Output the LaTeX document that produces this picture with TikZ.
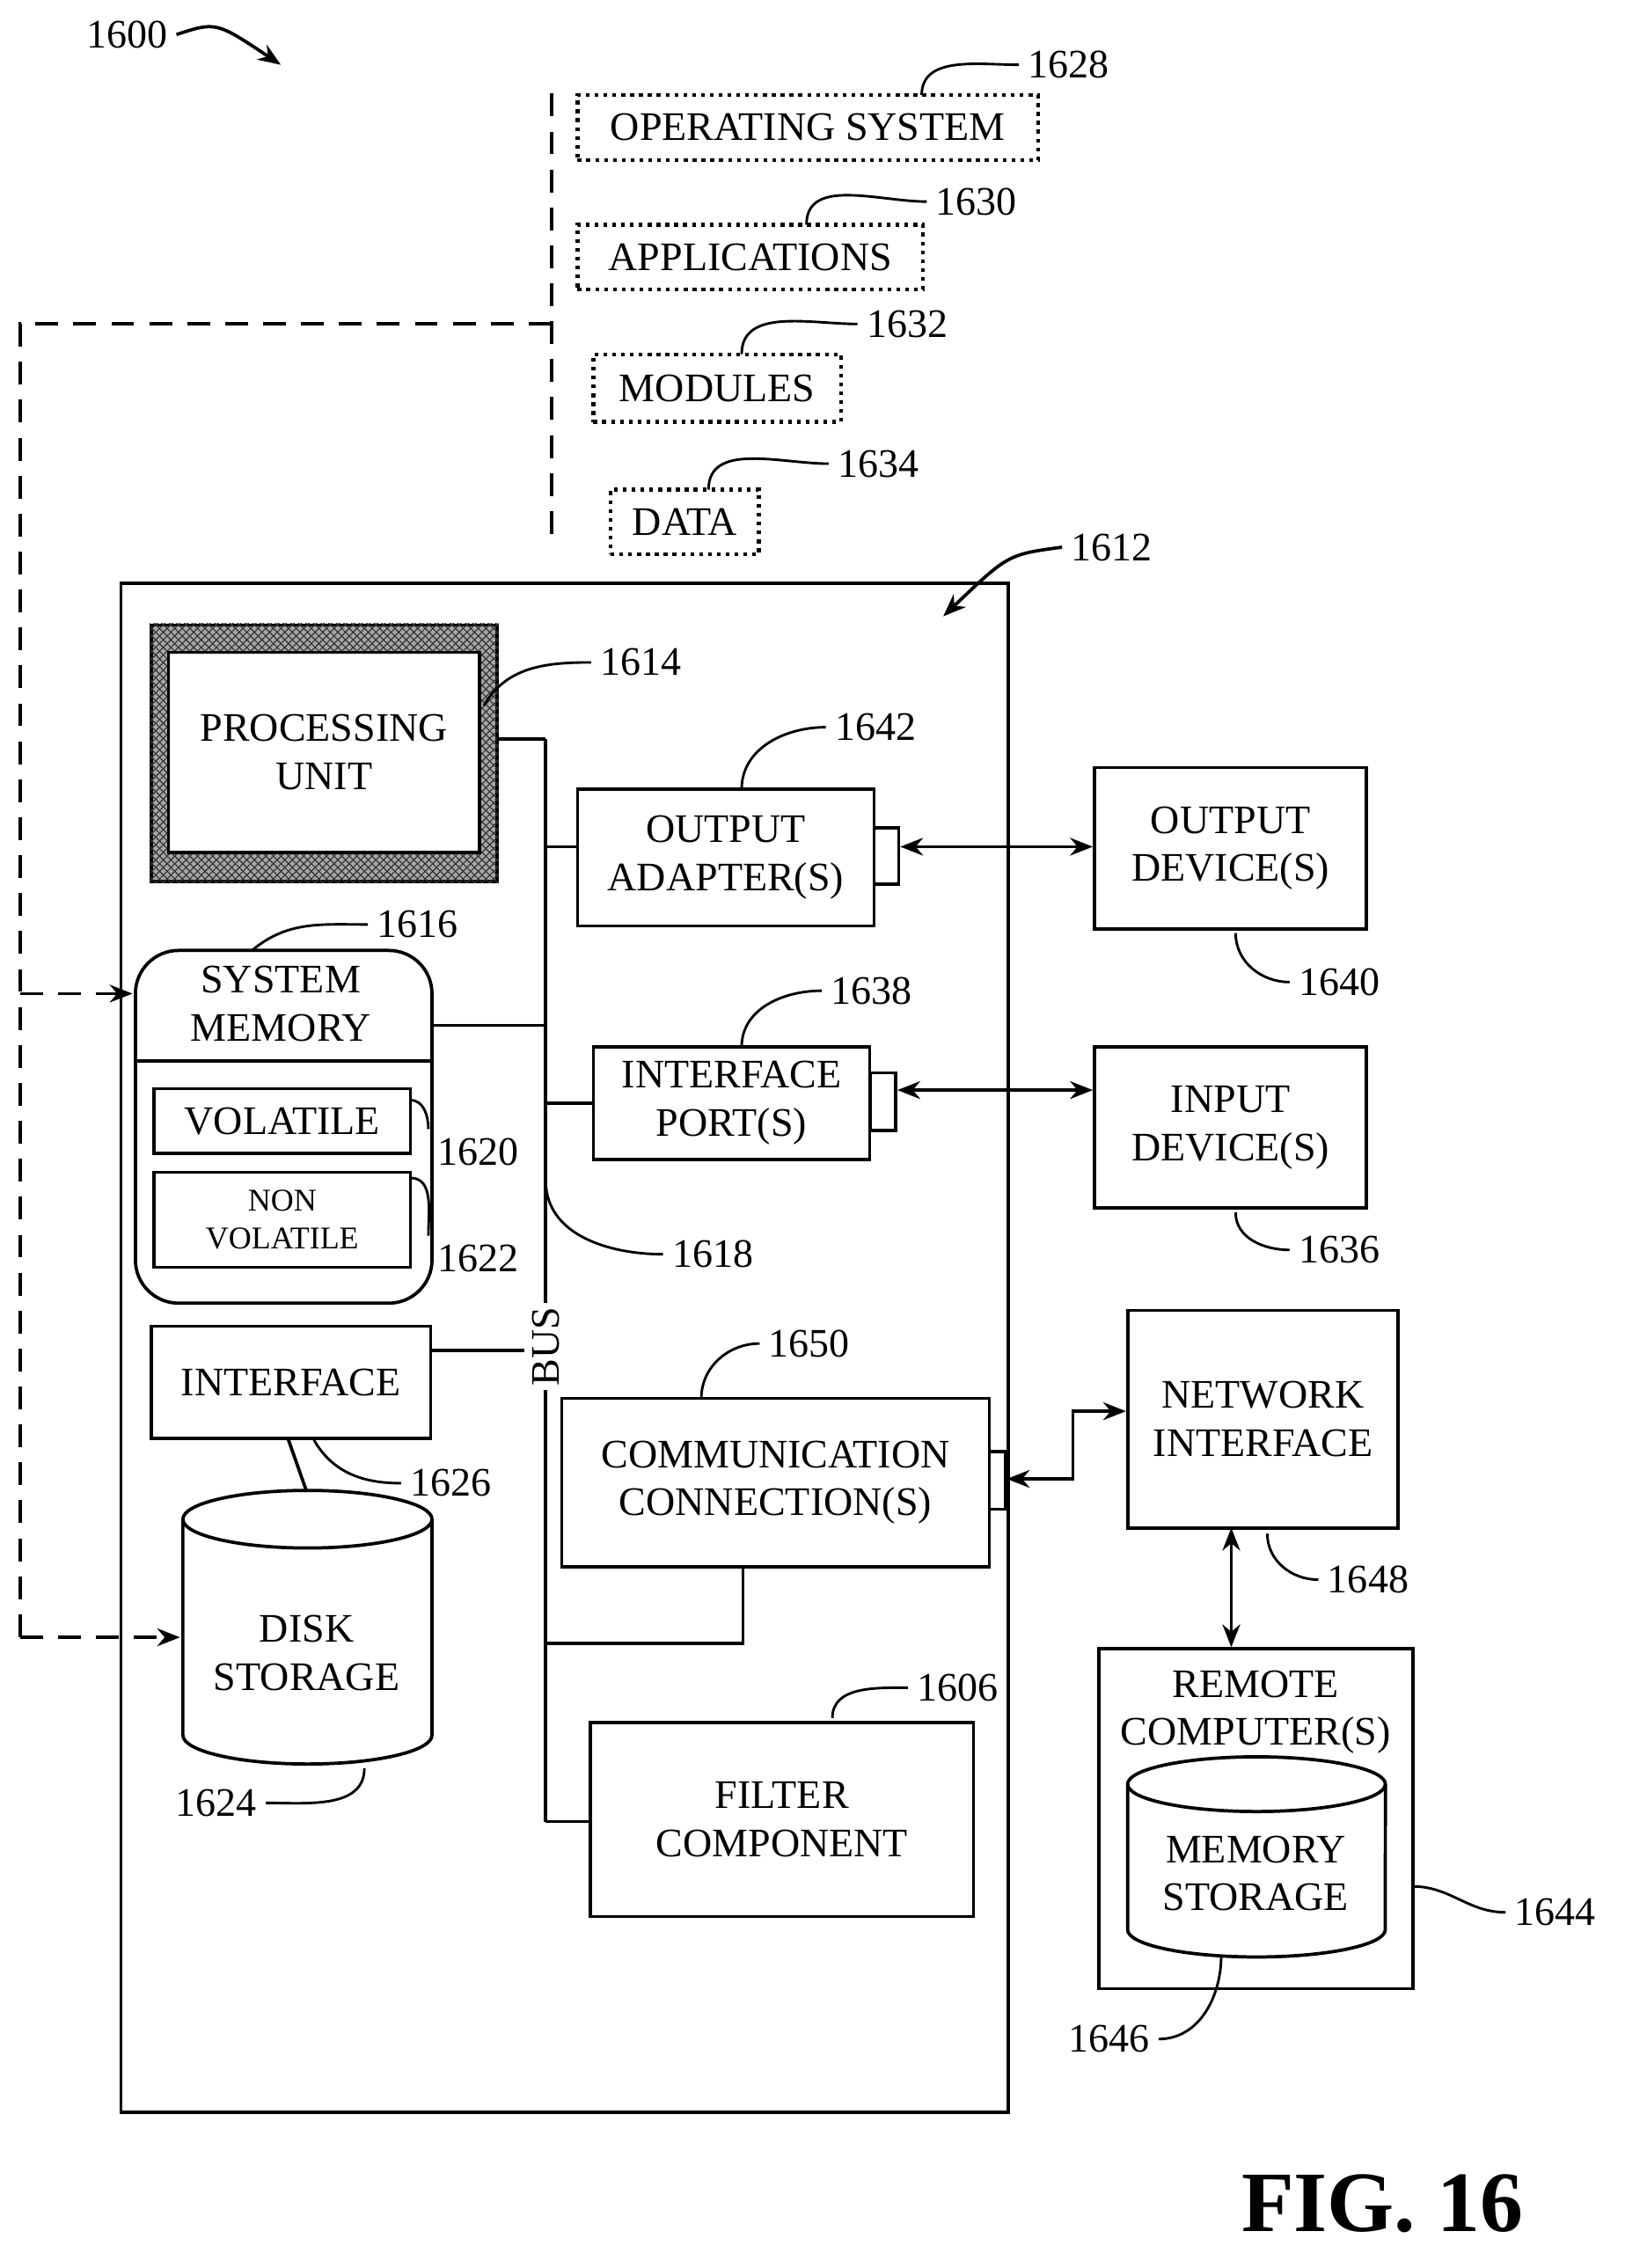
\documentclass[tikz,border=0pt]{standalone}
\usepackage{fontspec}
\setmainfont{Liberation Serif}
\usetikzlibrary{arrows.meta,patterns}
\begin{document}
\begin{tikzpicture}[x=0.02cm,y=-0.02cm,line width=1.3pt,
  box/.style={draw,rectangle,inner sep=0pt,align=center,font=\fontsize{16}{19}\selectfont},
  dbox/.style={box,dotted,line width=1.5pt},
  lbl/.style={font=\fontsize{16}{18}\selectfont,inner sep=3pt},
  lead/.style={line width=1pt},
  arr/.style={-{Stealth[length=9pt,width=7pt]}},
  darr/.style={{Stealth[length=9pt,width=7pt]}-{Stealth[length=9pt,width=7pt]}},
  dsh/.style={dash pattern=on 9pt off 6pt}]
\useasboundingbox (0,0) rectangle (1128,1575);
% title
\node[lbl] (n1600) at (88,24) {1600};
\coordinate (a1600) at (195,45);
\draw[arr,lead,line width=1.3pt] (n1600.east) .. controls (150,15) .. (a1600);
% dotted boxes
\node[dbox,minimum width=6.4cm,minimum height=0.9cm] (os) at (561,88.5) {OPERATING SYSTEM};
\node[dbox,minimum width=4.8cm,minimum height=0.9cm] (apps) at (521,178.5) {APPLICATIONS};
\node[dbox,minimum width=3.44cm,minimum height=0.94cm] (mods) at (498,269.5) {MODULES};
\node[dbox,minimum width=2.06cm,minimum height=0.9cm] (data) at (475.5,362.5) {DATA};
\node[lbl] (n1628) at (742,45) {1628};
\node[lbl] (n1630) at (678,140) {1630};
\node[lbl] (n1632) at (630,225) {1632};
\node[lbl] (n1634) at (610,322) {1634};
\draw[lead] (640,66) to[out=90,in=180] (n1628.west);
\draw[lead] (560,156) to[out=90,in=180] (n1630.west);
\draw[lead] (515,246) to[out=90,in=180] (n1632.west);
\draw[lead] (492,340) to[out=90,in=180] (n1634.west);
% dashed lines
\coordinate (d0) at (383,65); \coordinate (d1) at (383,380);
\draw[dsh] (d0) -- (d1);
\coordinate (d2) at (383,225);
% main box
\node[box,minimum width=12.32cm,minimum height=21.24cm] (main) at (392,936) {};
\node[lbl] (n1612) at (772,380) {1612};
\draw[arr,lead,line width=1.3pt] (n1612.west) .. controls (700,385) .. (655,428);
% processing unit
\node[draw,minimum width=4.8cm,minimum height=3.56cm,fill=gray!70,inner sep=0pt] (puo) at (225,523) {};
\fill[pattern=crosshatch,pattern color=black!80] (puo.south west) rectangle (puo.north east);
\node[box,fill=white,minimum width=4.32cm,minimum height=2.78cm] (pu) at (225,522.5) {PROCESSING\\UNIT};
\node[lbl] (n1614) at (445,460) {1614};
\draw[lead] (336,490) to[out=60,in=180] (n1614.west);
% bus
\coordinate (bt) at (379,513); \coordinate (bb) at (379,1265);
\draw (bt) -- (379,905); \draw (379,965) -- (bb);
\node[rotate=90,font=\fontsize{16}{18}\selectfont,inner sep=1pt] (bus) at (379,935) {BUS};
\draw (345,513) -- (bt);
% output adapter
\node[box,minimum width=4.12cm,minimum height=1.9cm] (oa) at (504,595.5) {OUTPUT\\ADAPTER(S)};
\node[box,minimum width=0.34cm,minimum height=0.78cm] (oat) at (615.5,594.5) {};
\draw (379,588) -- (oa.west |- 0,588);
\node[box,minimum width=3.78cm,minimum height=2.24cm] (od) at (854.5,589) {OUTPUT\\DEVICE(S)};
\draw[darr] (oat.east |- 0,588) -- (od.west |- 0,588);
\node[lbl] (n1642) at (608,505) {1642};
\draw[lead] (515,548) to[out=90,in=180] (n1642.west);
\node[lbl] (n1640) at (930,682) {1640};
\draw[lead] (858,648) to[out=-90,in=180] (n1640.west);
% system memory
\node[box,rounded corners=0.6cm,minimum width=4.12cm,minimum height=4.9cm] (sm) at (197,782.5) {};
\node[align=center,font=\fontsize{16}{19}\selectfont] (smt) at (195,697) {SYSTEM\\MEMORY};
\draw (94,737) -- (300,737);
\draw (300,712) -- (379,712);
\node[lbl] (n1616) at (290,642) {1616};
\draw[lead] (175,660) to[out=40,in=180] (n1616.west);
\node[box,minimum width=3.56cm,minimum height=0.9cm] (vol) at (196,778.5) {VOLATILE};
\node[box,minimum width=3.56cm,minimum height=1.32cm,font=\fontsize{12.5}{15}\selectfont] (nvol) at (196,847) {NON\\VOLATILE};
\node[lbl] (n1620) at (332,800) {1620};
\node[lbl] (n1622) at (332,874) {1622};
\draw[lead] (285,764) to[out=0,in=90] (n1620.north west);
\draw[lead] (285,818) to[out=0,in=90] (n1622.north west);
\node[lbl] (n1618) at (495,871) {1618};
\draw[lead] (379,820) to[out=-90,in=180] (n1618.west);
% interface port
\node[box,minimum width=3.84cm,minimum height=1.56cm] (ip) at (508,766) {INTERFACE\\PORT(S)};
\node[box,minimum width=0.36cm,minimum height=0.8cm] (ipt) at (613,765) {};
\draw (379,766) -- (ip.west |- 0,766);
\node[box,minimum width=3.78cm,minimum height=2.24cm] (id) at (854.5,783) {INPUT\\DEVICE(S)};
\draw[darr] (ipt.east |- 0,757) -- (id.west |- 0,757);
\node[lbl] (n1638) at (605,688) {1638};
\draw[lead] (515,727) to[out=90,in=180] (n1638.west);
\node[lbl] (n1636) at (930,868) {1636};
\draw[lead] (858,842) to[out=-90,in=180] (n1636.west);
% interface
\node[box,minimum width=3.88cm,minimum height=1.56cm] (if) at (202,960) {INTERFACE};
\draw (299,938) -- (364,938);
\node[lbl] (n1626) at (313,1030) {1626};
\draw[lead] (218,1000) to[out=-60,in=180] (n1626.west);
% disk storage
\coordinate (dk) at (213.5,1055);
\draw[fill=white] (127,1055) -- (127,1205) arc[start angle=180,end angle=360,x radius=1.73cm,y radius=0.4cm] -- (300,1055);
\draw (dk) ellipse[x radius=1.73cm,y radius=0.4cm];
\node[align=center,font=\fontsize{16}{19}\selectfont] (disk) at (213,1148) {DISK\\STORAGE};
\draw (200,999) -- (213,1036);
\node[lbl] (n1624) at (150,1252) {1624};
\draw[lead] (n1624.east) to[out=0,in=-90] (253,1228);
% dashed connectors
\coordinate (d3) at (14,225); \coordinate (d4) at (14,1137); \coordinate (d5) at (14,690);
\draw[dsh] (d2) -- (d3) -- (d4);
\draw[dsh,arr] (d4) -- (125,1137);
\draw[dsh,arr] (d5) -- (92,690);
% communication connection
\node[box,minimum width=5.94cm,minimum height=2.34cm] (cc) at (538.5,1029.5) {COMMUNICATION\\CONNECTION(S)};
\node[box,minimum width=0.22cm,minimum height=0.8cm] (cct) at (692.5,1028) {};
\draw (516,1088) -- (516,1141) -- (379,1141);
\node[lbl] (n1650) at (562,933) {1650};
\draw[lead] (487,971) to[out=90,in=180] (n1650.west);
% network interface
\node[box,minimum width=3.76cm,minimum height=3.02cm] (ni) at (877,985.5) {NETWORK\\INTERFACE};
\draw[darr] (cct.east |- 0,1027) -- (745,1027) -- (745,980) -- (ni.west |- 0,980);
\node[lbl] (n1648) at (950,1097) {1648};
\draw[lead] (880,1065) to[out=-90,in=180] (n1648.west);
% remote computer
\node[box,minimum width=4.36cm,minimum height=4.72cm] (rc) at (872,1263) {};
\draw[darr] (855,1061) -- (rc.north -| 855,0);
\node[align=center,font=\fontsize{16}{19}\selectfont] (rct) at (872,1189) {REMOTE\\COMPUTER(S)};
\coordinate (ms) at (872.5,1239);
\draw (783,1239) -- (783,1340) arc[start angle=180,end angle=360,x radius=1.79cm,y radius=0.38cm] -- (962,1239);
\draw (ms) ellipse[x radius=1.79cm,y radius=0.38cm];
\node[align=center,font=\fontsize{16}{19}\selectfont] (mst) at (872,1301) {MEMORY\\STORAGE};
\node[lbl] (n1644) at (1080,1328) {1644};
\draw[lead] (981,1310) to[out=0,in=180] (n1644.west);
\node[lbl] (n1646) at (770,1416) {1646};
\draw[lead] (848,1358) to[out=-90,in=0] (n1646.east);
% filter
\node[box,minimum width=5.32cm,minimum height=2.7cm] (fc) at (543,1263.5) {FILTER\\COMPONENT};
\draw (bb) -- (fc.west |- 0,1265);
\node[lbl] (n1606) at (665,1172) {1606};
\draw[lead] (578,1193) to[out=90,in=180] (n1606.west);
% fig
\node[font=\fontsize{34}{40}\selectfont\bfseries] (fig) at (960,1530) {FIG. 16};
\end{tikzpicture}
\end{document}
